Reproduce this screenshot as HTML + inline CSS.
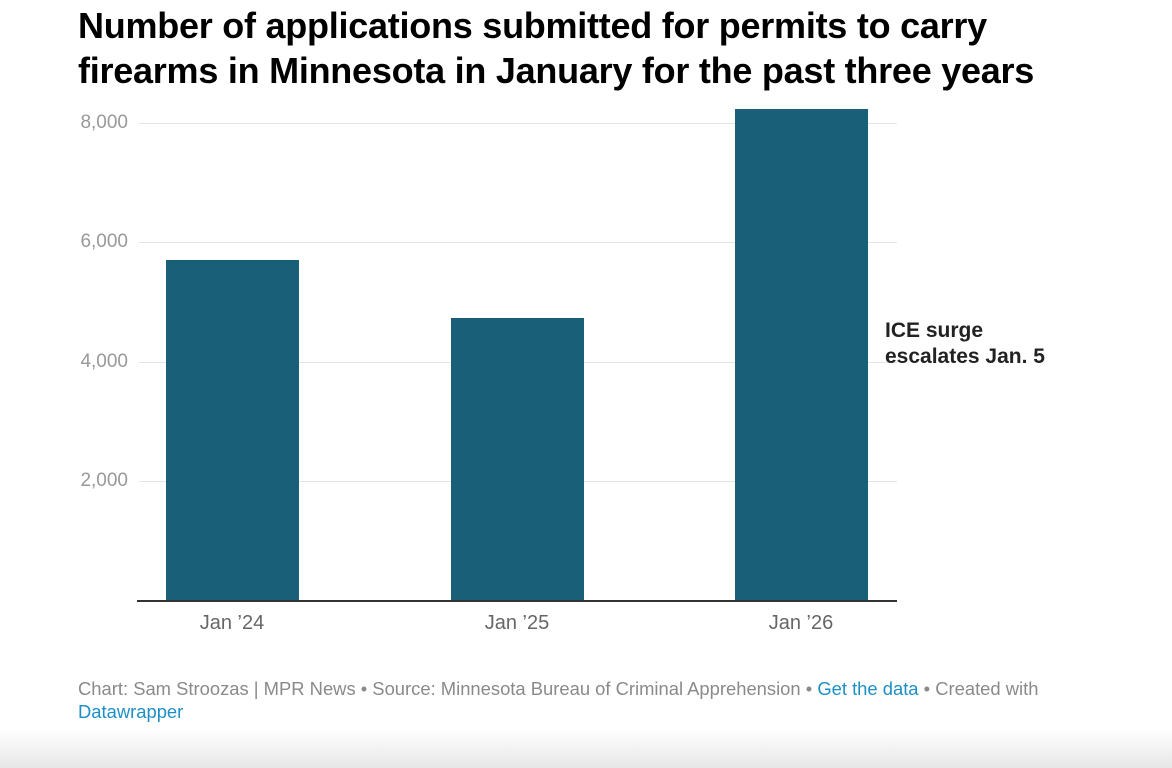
<!DOCTYPE html>
<html><head><meta charset="utf-8"><style>
body{margin:0;width:1172px;height:768px;background:#fff;font-family:"Liberation Sans",Arial,sans-serif;position:relative;overflow:hidden}
.t{position:absolute;left:78px;top:3px;font-size:36px;font-weight:bold;line-height:45px;color:#000;letter-spacing:-0.25px;white-space:nowrap}
.g{position:absolute;left:139px;width:758px;height:1px;background:#e4e4e4}
.yl{position:absolute;left:60px;width:68px;text-align:right;font-size:19px;color:#999}
.bar{position:absolute;width:133px;background:#195f77}
.xl{position:absolute;width:200px;text-align:center;font-size:20px;color:#666;top:612px}
.f{position:absolute;left:78px;top:677px;font-size:18.4px;line-height:23px;color:#8a8a8a;white-space:nowrap}
.f a{color:#1d8fc7;text-decoration:none}
.fade{position:absolute;left:0;right:0;top:730px;height:38px;background:linear-gradient(#fff,#e6e6e6)}
</style></head><body>
<div class="t">Number of applications submitted for permits to carry<br>firearms in Minnesota in January for the past three years</div>
<div class="g" style="top:123px"></div><div class="yl" style="top:112px">8,000</div>
<div class="g" style="top:242px"></div><div class="yl" style="top:231px">6,000</div>
<div class="g" style="top:362px"></div><div class="yl" style="top:351px">4,000</div>
<div class="g" style="top:481px"></div><div class="yl" style="top:470px">2,000</div>
<div class="bar" style="left:166px;top:260px;height:341px"></div>
<div class="bar" style="left:451px;top:318px;height:283px"></div>
<div class="bar" style="left:735px;top:109px;height:492px"></div>
<div style="position:absolute;left:137px;top:600px;width:760px;height:2px;background:#333"></div>
<div class="xl" style="left:132px">Jan ’24</div>
<div class="xl" style="left:417px">Jan ’25</div>
<div class="xl" style="left:701px">Jan ’26</div>
<div style="position:absolute;left:885px;top:318px;font-size:21px;font-weight:bold;line-height:26px;color:#222">ICE surge<br>escalates Jan. 5</div>
<div class="f">Chart: Sam Stroozas | MPR News • Source: Minnesota Bureau of Criminal Apprehension • <a>Get the data</a> • Created with<br><a>Datawrapper</a></div>
<div class="fade"></div>
</body></html>
